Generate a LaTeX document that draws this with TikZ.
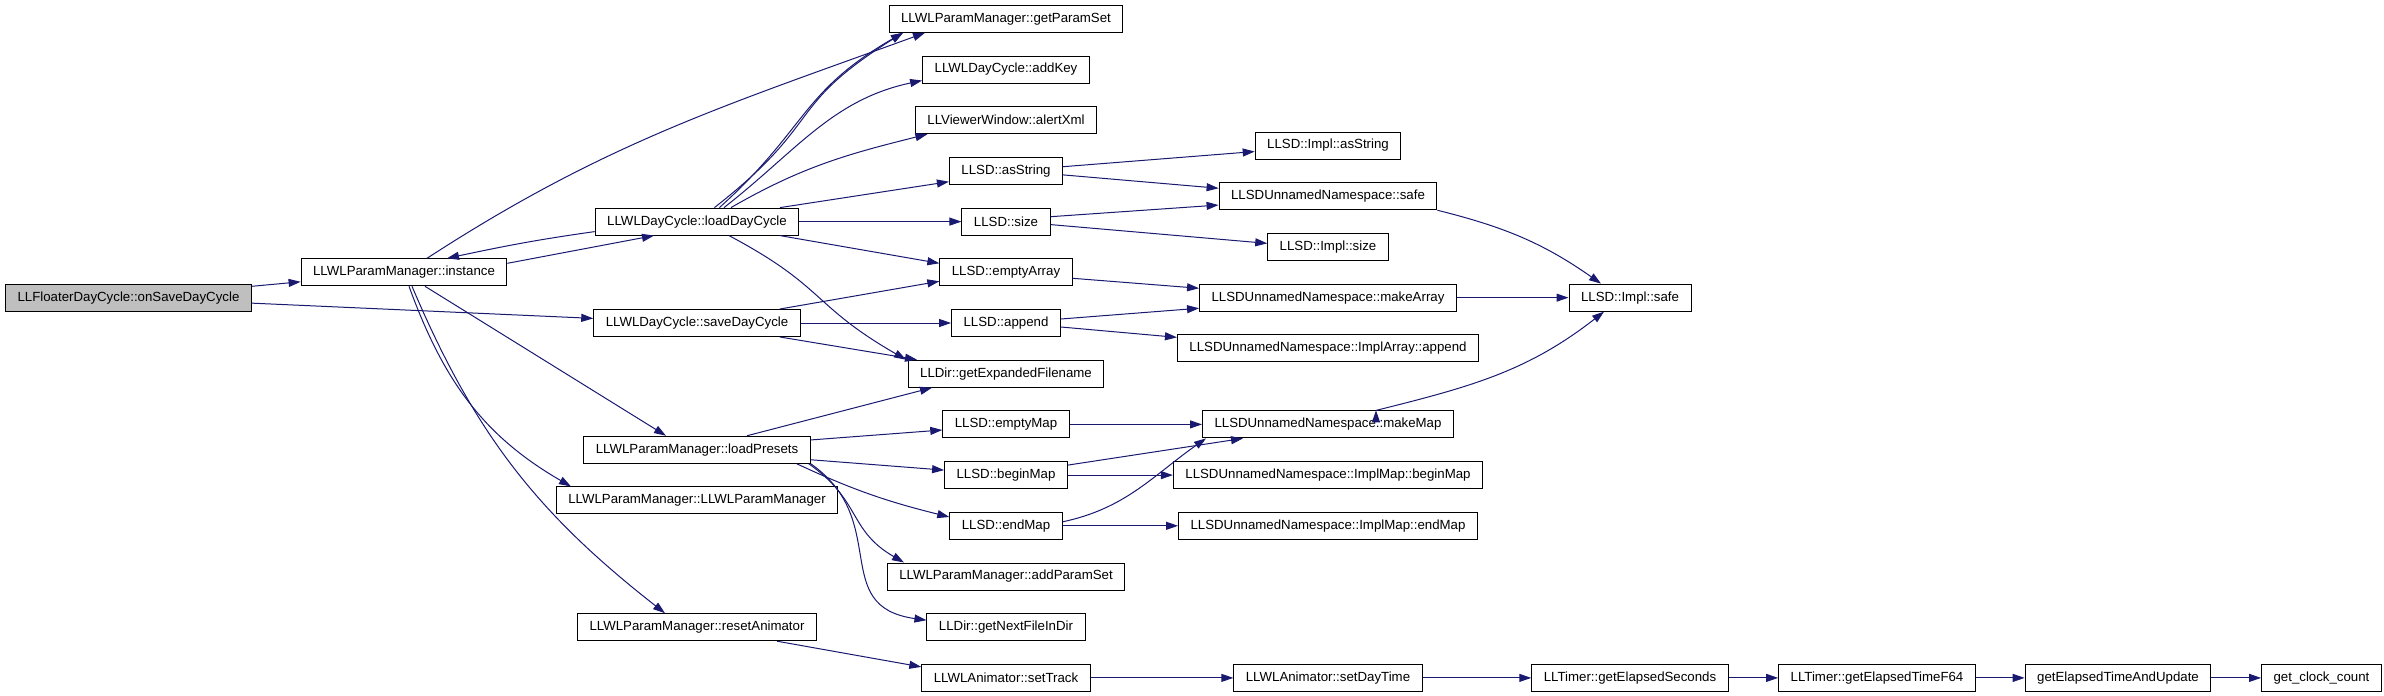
\documentclass[tikz,border=0pt]{standalone}
\usepackage{fontspec}
\setmainfont{Liberation Sans}
\usetikzlibrary{positioning, arrows.meta}
\definecolor{edgeblue}{HTML}{191970}
\definecolor{boxgray}{HTML}{BFBFBF}

\begin{document}
\begin{tikzpicture}
	\tikzset{
	->, % every call is drawn as an arrow
	>={Triangle[length=6pt,width=4pt]}, % filled heads as doxygen draws them
	node distance=25.35pt, % two half rows between boxes of one column
	every node/.style={font=\fontsize{6.63}{8}\selectfont},
	func/.style={draw, rectangle, line width=0.5pt, minimum height=13.5pt, inner xsep=6pt, inner ysep=0pt}, % one function
	call/.style={edgeblue, line width=0.5pt} % one call
	}
	\useasboundingbox (0,0) rectangle (1192pt,-348pt);

	% functions called by the callers
	\node[func] (getps) at (503pt,-9.4pt) {LLWLParamManager::getParamSet};
	\node[func, below of=getps] (addkey) {LLWLDayCycle::addKey};
	\node[func, below of=addkey] (alertxml) {LLViewerWindow::alertXml};
	\node[func, below of=alertxml] (asstr) {LLSD::asString};
	\node[func, below of=asstr] (sdsize) {LLSD::size};
	\node[func, below of=sdsize] (emptyarr) {LLSD::emptyArray};
	\node[func, below of=emptyarr] (sdappend) {LLSD::append};
	\node[func, below of=sdappend] (getexp) {LLDir::getExpandedFilename};
	\node[func, below of=getexp] (emptymap) {LLSD::emptyMap};
	\node[func, below of=emptymap] (beginmap) {LLSD::beginMap};
	\node[func, below of=beginmap] (endmap) {LLSD::endMap};
	\node[func, below of=endmap] (addps) {LLWLParamManager::addParamSet};
	\node[func, below of=addps] (nextfile) {LLDir::getNextFileInDir};
	\node[func, below of=nextfile] (settrack) {LLWLAnimator::setTrack};

	% callers
	\node[func, left of=sdsize, node distance=154.5pt] (loaddc) {LLWLDayCycle::loadDayCycle};
	\node[func, left of=sdappend, node distance=154.5pt] (savedc) {LLWLDayCycle::saveDayCycle};
	\node[func, left of=beginmap, node distance=154.5pt, yshift=12.675pt] (presets) {LLWLParamManager::loadPresets};
	\node[func, left of=endmap, node distance=154.5pt, yshift=12.675pt] (ctor) {LLWLParamManager::LLWLParamManager};
	\node[func, left of=nextfile, node distance=154.5pt] (resetanim) {LLWLParamManager::resetAnimator};
	\node[func, left of=emptyarr, node distance=301pt] (instance) {LLWLParamManager::instance};
	\node[func, fill=boxgray, left of=instance, node distance=137.75pt, yshift=-12.675pt] (onsave) {LLFloaterDayCycle::onSaveDayCycle};

	% deeper calls
	\node[func, right of=asstr, node distance=161pt, yshift=12.675pt] (implasstr) {LLSD::Impl::asString};
	\node[func, right of=asstr, node distance=161pt, yshift=-12.675pt] (unsafe) {LLSDUnnamedNamespace::safe};
	\node[func, right of=sdsize, node distance=161pt, yshift=-12.675pt] (implsize) {LLSD::Impl::size};
	\node[func, right of=emptyarr, node distance=161pt, yshift=-12.675pt] (makearr) {LLSDUnnamedNamespace::makeArray};
	\node[func, right of=sdappend, node distance=161pt, yshift=-12.675pt] (arrappend) {LLSDUnnamedNamespace::ImplArray::append};
	\node[func, right of=emptymap, node distance=161pt] (makemap) {LLSDUnnamedNamespace::makeMap};
	\node[func, right of=beginmap, node distance=161pt] (mapbegin) {LLSDUnnamedNamespace::ImplMap::beginMap};
	\node[func, right of=endmap, node distance=161pt] (mapend) {LLSDUnnamedNamespace::ImplMap::endMap};
	\node[func, right of=settrack, node distance=161pt] (daytime) {LLWLAnimator::setDayTime};
	\node[func, right of=makearr, node distance=151pt] (implsafe) {LLSD::Impl::safe};
	\node[func, right of=daytime, node distance=151pt] (elapsedsec) {LLTimer::getElapsedSeconds};
	\node[func, right of=elapsedsec, node distance=123.5pt] (elapsedf64) {LLTimer::getElapsedTimeF64};
	\node[func, right of=elapsedf64, node distance=120.5pt] (elapsedupd) {getElapsedTimeAndUpdate};
	\node[func, right of=elapsedupd, node distance=101.75pt] (clockcount) {get\_clock\_count};

	\draw[call]
	(onsave) edge (instance)
	(onsave) edge (savedc)
	([xshift=11.5pt]instance.north) edge[out=33, in=200] ([xshift=-40.5pt]getps.south)
	([yshift=4.5pt]instance.east) edge ([xshift=-21.5pt]loaddc.south)
	([xshift=10.5pt]instance.south) edge ([xshift=-15.5pt]presets.north)
	([xshift=2.5pt]instance.south) edge[out=-70, in=150] ([xshift=-63pt]ctor.north)
	([xshift=4pt]instance.south) edge[out=-67, in=142] ([xshift=-16pt]resetanim.north)

	([yshift=-5pt]loaddc.west) edge[out=188, in=12] ([xshift=21.5pt]instance.north)
	([xshift=8.7pt]loaddc.north) edge[out=38, in=212, looseness=1.4] ([xshift=-51.5pt]getps.south)
	([xshift=11.2pt]loaddc.north) edge[out=42, in=210, looseness=1.2] ([xshift=-51.5pt]getps.south)
	([xshift=13.5pt]loaddc.north) edge[out=38, in=192] ([yshift=-5.5pt]addkey.west)
	([xshift=17pt]loaddc.north) edge[out=30, in=194] ([xshift=-39.3pt]alertxml.south)
	([xshift=41.5pt]loaddc.north) edge ([yshift=-5.4pt]asstr.west)
	(loaddc) edge (sdsize)
	([xshift=41.5pt]loaddc.south) edge ([yshift=4.5pt]emptyarr.west)
	([xshift=16pt]loaddc.south) edge[out=-28, in=150, looseness=1.3] ([xshift=-50pt]getexp.north)

	([xshift=41.5pt]savedc.north) edge ([yshift=-4.5pt]emptyarr.west)
	(savedc) edge (sdappend)
	([xshift=41.5pt]savedc.south) edge ([xshift=-44.5pt]getexp.north)

	([xshift=25pt]presets.north) edge ([xshift=-37pt]getexp.south)
	([yshift=4.9pt]presets.east) edge ([yshift=-2.8pt]emptymap.west)
	([yshift=-5pt]presets.east) edge ([yshift=2.5pt]beginmap.west)
	([xshift=-7pt]presets.south east) edge[out=-25, in=166] ([yshift=4.4pt]endmap.west)
	([xshift=-1pt]presets.south east) edge[out=-35, in=150, looseness=1.2] ([xshift=-51pt]addps.north)
	([xshift=0pt]presets.south east) edge[out=-35, in=172, looseness=1.3] ([yshift=3.5pt]nextfile.west)
	([xshift=40pt]resetanim.south) edge ([yshift=5.5pt]settrack.west)

	([yshift=2.1pt]asstr.east) edge ([yshift=-3pt]implasstr.west)
	([yshift=-2pt]asstr.east) edge ([yshift=4pt]unsafe.west)
	([yshift=2.45pt]sdsize.east) edge ([yshift=-4.4pt]unsafe.west)
	([yshift=-1.5pt]sdsize.east) edge ([yshift=1.8pt]implsize.west)
	([yshift=-3pt]emptyarr.east) edge ([yshift=4.7pt]makearr.west)
	([yshift=2pt]sdappend.east) edge ([yshift=-5.3pt]makearr.west)
	([yshift=-2pt]sdappend.east) edge ([yshift=5.5pt]arrappend.west)
	(emptymap) edge (makemap)
	([yshift=5pt]beginmap.east) edge ([xshift=-42.5pt]makemap.south)
	(beginmap) edge (mapbegin)
	([yshift=2pt]endmap.east) edge[out=12, in=215] ([xshift=-61pt]makemap.south)
	(endmap) edge (mapend)

	(unsafe.south east) edge[out=-14, in=145] ([xshift=-14.5pt]implsafe.north)
	(makearr) edge (implsafe)
	([xshift=24pt]makemap.north) edge[out=14, in=218] ([xshift=-13pt]implsafe.south)

	(settrack) edge (daytime)
	(daytime) edge (elapsedsec)
	(elapsedsec) edge (elapsedf64)
	(elapsedf64) edge (elapsedupd)
	(elapsedupd) edge (clockcount)
	;
\end{tikzpicture}
\end{document}
